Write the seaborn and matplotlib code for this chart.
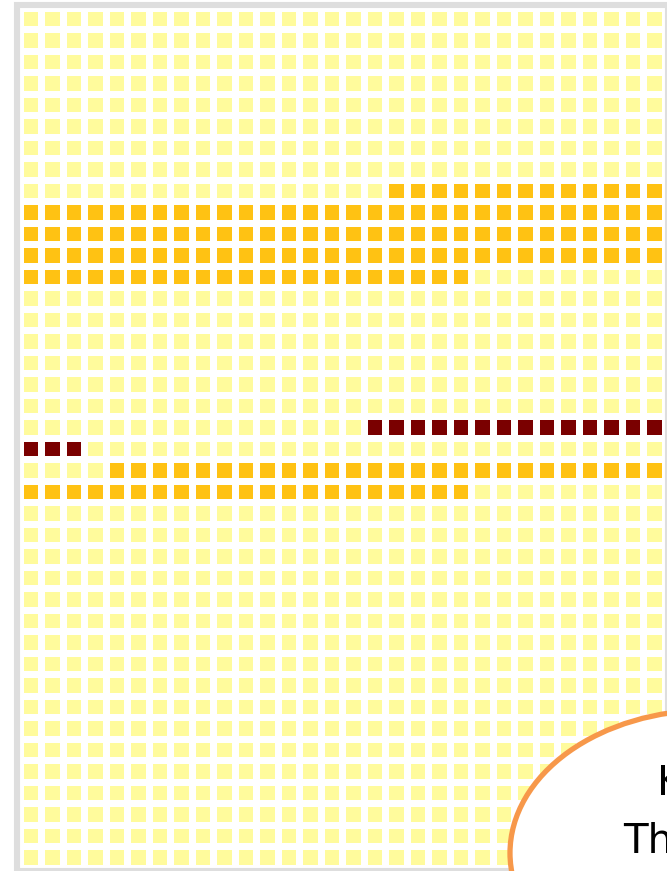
import numpy as np
import matplotlib
matplotlib.use("Agg")
import matplotlib.pyplot as plt
from matplotlib.colors import ListedColormap
from matplotlib.patches import Ellipse, Rectangle
import seaborn as sns

# waffle grid, filled row by row (left to right, top to bottom)
n_rows = 40
n_cols = 30
segment_cat = [0, 1, 0, 2, 0, 1, 0]          # 0 = rest, 1 = highlight, 2 = key group
segment_len = [257, 124, 205, 17, 31, 47, 519]
cat_colors = ["#fffb9c", "#ffc213", "#7a0000"]
note_lines = ["Key group", "The highlight"]

cells = np.repeat(segment_cat, segment_len).reshape(n_rows, n_cols)

sns.set_style("white")
plt.rcParams['font.family'] = ['DejaVu Sans']

W, H = 667, 871
fig = plt.figure(figsize=(W / 100, H / 100), dpi=100)
ax = fig.add_axes([19.75 / W, 1 - 867.75 / H, 645 / W, 860 / H])

sns.heatmap(cells, ax=ax, cmap=ListedColormap(cat_colors), vmin=-0.5, vmax=2.5,
            cbar=False, linewidths=4.7, linecolor="white",
            xticklabels=False, yticklabels=False)
ax.set_position([19.75 / W, 1 - 867.75 / H, 645 / W, 860 / H])
for s in ax.spines.values():
    s.set_visible(False)

# light grey frame around the panel
fig.patches.append(Rectangle((17 / W, 0), 651 / W, (H - 5) / H, transform=fig.transFigure,
                             fill=False, edgecolor="#dedede", linewidth=4.4, zorder=2))

# callout bubble (mostly outside the crop)
fig.patches.append(Ellipse((710 / W, 1 - 853 / H), 400 / W, 286 / H, transform=fig.transFigure,
                           facecolor="white", edgecolor="#f7984a", linewidth=3.8, zorder=3))
fig.text(657 / W, 1 - 784 / H, note_lines[0], fontsize=29, color="black",
         ha="left", va="center", zorder=4)
fig.text(623 / W, 1 - 842 / H, note_lines[1], fontsize=29, color="black",
         ha="left", va="center", zorder=4)

fig.savefig("out.png", dpi=100)
